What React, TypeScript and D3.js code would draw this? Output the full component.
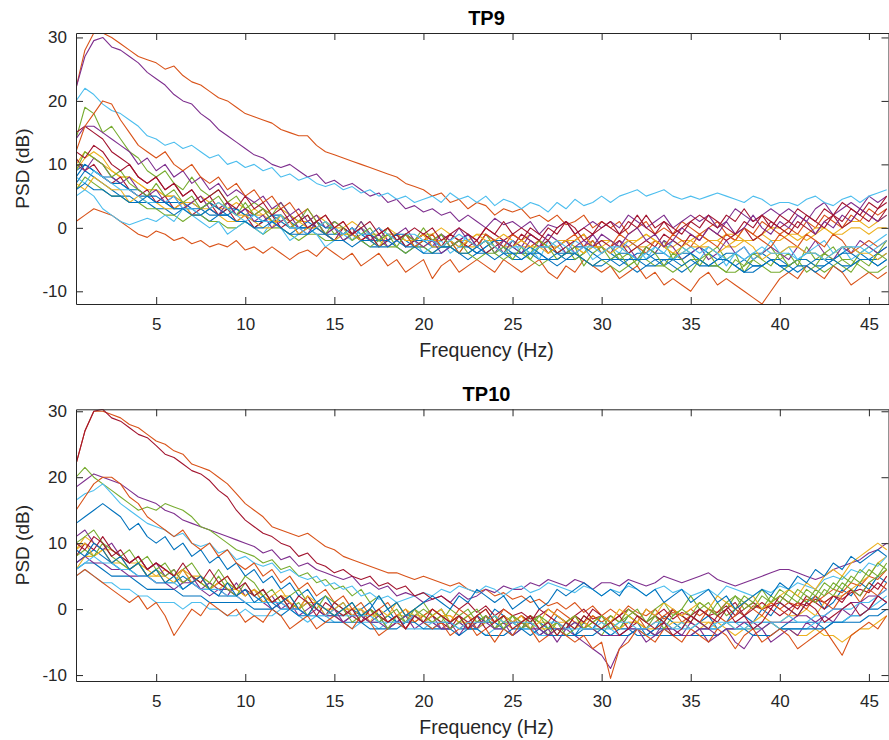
import React, { useEffect, useRef } from "react";
import * as d3 from "d3";

// PSD bins, 0.5 Hz apart
const frequencies = d3.range(0.5, 46.01, 0.5);
const xTicks = [5, 10, 15, 20, 25, 30, 35, 40, 45];
const yTicks = [-10, 0, 10, 20, 30];

// one row per epoch, dB values at each bin
const tp9Series = [
  [9,10,9,8,7,7,6,5,5,4, 4,3,3,4,3,2,2,3,3,2, 1,1,2,1,0,0,1,0,-1,-1, -1,0,-1,-2,-2,-1,-1,-2,-3,-2, -2,-3,-3,-2,-3,-4,-3,-2,-2,-3, -4,-4,-3,-3,-4,-5,-5,-4,-3,-3, -4,-5,-5,-4,-4,-5,-6,-5,-4,-4, -3,-4,-5,-5,-6,-5,-4,-4,-5,-6, -6,-5,-4,-4,-5,-5,-4,-3,-4,-5,-5,-4],
  [22,28,30.7,30.7,30,29,28,27,26.5,26, 25,25.5,24,23,22.5,21.5,20.5,20,19,18, 17.5,17,16.5,15.5,15,14.5,14.5,13,12,11.5, 11,10.5,10,9.5,9,8.5,8,7,6.5,6, 5,5.5,4,4.5,3,4,3.5,2,3,2.5, 3,1.5,2,1,2,0.5,1,2,0,1, 0,1,-1,0,1,-1,0,-1,1,0, -1,0,1,-1,-2,0,-1,1,0,-1, 0,-1,1,0,2,1,0,2,1,3,2,3],
  [10,12,11,10,9,8,8,7,6,6, 5,5,4,4,5,4,3,3,4,3, 2,2,3,3,2,1,1,2,1,0, 0,1,0,-1,-1,0,-1,-2,-2,-1, -1,0,-1,-2,-2,-1,-1,-2,-3,-3, -2,-1,-2,-3,-2,-2,-3,-4,-3,-2, -2,-3,-3,-2,-1,-2,-3,-3,-2,-2, -1,-2,-2,-1,-1,-2,-2,-1,0,0, -1,-2,-1,0,0,-1,0,1,1,0,1,2],
  [22,27,29.5,30,28.5,28,27,26,24.5,23.5, 22.5,21,20,19.5,18,17,15.5,14.5,13.5,12.5, 11.5,11,10,9.5,10,9,8,8.5,7,7.5, 6.5,7,6,5,5.5,4,4.5,3,3.5,2.5, 3,2,2.5,1,2,1,0,1.5,0.5,1, 0,1,-1,0.5,0,1,-1,0,1,0, 1,0,2,1,0,1,2,0,1,2, 1,2,0,1,3,2,1,2,3,2, 3,2,1,3,4,2,3,4,3,5,4,5],
  [14,19,18,15,16,14,12,11,9,8, 9,7,6,8,6,5,6,4,5,3, 4,3,2,4,2,1,2,0,1,-1, 0,-1,1,-1,-2,0,-2,-1,-3,-2, -1,-3,-2,-4,-2,-3,-1,-3,-4,-2, -3,-5,-3,-2,-4,-3,-5,-4,-2,-4, -3,-5,-4,-6,-3,-4,-2,-5,-3,-4, -6,-4,-3,-5,-4,-7,-5,-4,-3,-5, -4,-6,-3,-5,-4,-3,-5,-6,-4,-3,-4,-2],
  [20,22,21,19.5,18.5,18,17,16,14.5,14, 13,13.5,12.5,13,12,11,11.5,10,10.5,9.5, 10,9,9.5,8,8.5,7.5,8,7,6.5,7, 6,6.5,5.5,6,5,5.5,4.5,5,4,4.5, 5,4,5.5,4.5,5,4,5,3.5,4.5,4, 3,4,3.5,2.5,4,3,4.5,3.5,4,5, 4,5,5.5,6,5,5.5,6,5,4.5,5, 4.5,5,5.5,5,4.5,4,5,4.5,3.5,4, 4,3.5,4.5,5,4,3.5,4.5,5,4,5,5.5,6],
  [15,16,15,14,12,11,10,8,7,8, 6,7,5,6,4,5,3,4,2,3, 2,3,1,2,0,1,2,0,-1,0, -1,0,-2,-1,0,-2,-1,-3,-2,-1, -2,-1,-3,-2,-1,-2,0,-1,-2,-1, -2,0,-1,-2,0,1,-1,0,-1,1, 0,-1,1,0,2,0,1,-1,0,1, 2,1,0,2,1,3,1,2,0,2, 1,3,2,1,3,2,4,3,2,4,3,5],
  [7,9,8,7,6,5,5,4,4,3, 3,2,3,3,2,1,2,2,1,1, 0,1,1,0,-1,0,0,-1,-1,-2, -2,-1,-2,-3,-3,-2,-3,-4,-3,-3, -4,-4,-3,-4,-5,-4,-4,-3,-4,-5, -5,-4,-5,-5,-6,-5,-4,-5,-6,-6, -5,-5,-6,-7,-6,-5,-5,-6,-7,-6, -5,-6,-6,-5,-6,-7,-7,-6,-5,-6, -6,-7,-6,-5,-5,-6,-7,-6,-5,-5,-6,-5],
  [1,2,3,2.5,2,1,0,-1,-1.5,-0.5, -1,-2,-1.5,-2.5,-2,-3,-2.5,-3,-2,-3.5, -3,-4,-3,-4,-5,-4,-3.5,-4.5,-3,-4, -5,-4,-6,-5,-4,-6,-5,-7,-6,-5, -8,-6,-5,-7,-6,-5,-6,-7,-5,-6, -7,-6,-5,-7,-8,-6,-7,-5,-6,-7, -6,-8,-7,-6,-8,-7,-9,-8,-9,-10, -8,-7,-9,-8,-9,-10,-11,-12,-10,-8, -7,-8,-6,-7,-8,-6,-7,-9,-8,-7,-8,-7],
  [9,11,12,11,9,8,8,7,6,6, 5,5,4,4,3,3,4,3,2,2, 3,2,1,1,2,1,0,0,1,0, -1,-1,0,-1,-2,-1,-1,-2,-2,-3, -2,-2,-1,-2,-3,-3,-2,-2,-1,-2, -3,-3,-2,-3,-3,-2,-3,-4,-3,-3, -2,-3,-4,-3,-3,-2,-3,-4,-4,-3, -3,-2,-2,-3,-3,-2,-2,-1,-2,-2, -1,-1,-2,-1,0,-1,-1,0,0,-1,0,0],
  [14,16,16,15,14,13,12,10,11,9, 10,8,9,7,8,6,7,5,6,5, 4,5,3,4,2,3,1,2,0,1, 0,-1,1,-1,0,-2,-1,0,-2,-1, -3,-1,-2,0,-2,-3,-1,-2,-4,-2, -3,-1,-2,-4,-3,-2,-4,-3,-1,-3, -4,-2,-3,-5,-3,-4,-2,-3,-5,-4, -3,-5,-4,-2,-4,-3,-5,-4,-3,-4, -5,-3,-4,-2,-4,-5,-3,-4,-2,-3,-4,-3],
  [6,8,7,6,5,5,4,4,3,3, 2,2,1,2,2,1,1,0,0,1, 0,-1,0,0,-1,-2,-1,-1,-2,-2, -2,-1,-2,-3,-2,-3,-3,-4,-3,-3, -4,-3,-3,-4,-4,-5,-4,-4,-5,-4, -4,-5,-6,-5,-5,-4,-4,-5,-6,-5, -6,-7,-6,-5,-5,-6,-6,-7,-6,-5, -5,-6,-6,-7,-7,-6,-5,-6,-7,-7, -6,-5,-5,-6,-7,-6,-5,-5,-6,-7,-7,-6],
  [5,6,5,3,2,1,0.5,1,1.5,1, 2,1,3,2,1,0,1,-1,0,1, 0,-1,1,0,-2,-1,0,-1,-3,-2, -1,-2,0,-1,-3,-2,-1,-3,-2,-4, -3,-2,-4,-3,-1,-3,-2,-4,-3,-2, -4,-3,-5,-2,-3,-4,-2,-3,-5,-4, -3,-4,-2,-3,-5,-3,-4,-2,-3,-4, -5,-3,-4,-6,-4,-3,-5,-4,-2,-4, -3,-5,-4,-3,-2,-4,-3,-5,-4,-3,-2,-1],
  [11,9,10,8,7,8,6,5,6,4, 5,3,4,2,3,4,2,3,1,2, 0,1,2,0,1,-1,0,1,-1,-2, 0,-1,-2,-1,-3,-2,-1,-3,-2,-1, -2,-3,-1,-2,-3,-2,-4,-3,-2,-3, -1,-2,-3,-2,-4,-3,-2,-1,-3,-2, -3,-2,-4,-3,-2,-3,-1,-2,-3,-1, -2,0,-1,-2,-1,0,-2,-1,1,0, -1,1,0,-1,1,2,0,1,3,2,1,3],
  [8,10,9,8,8,7,6,6,5,5, 4,4,4,3,3,4,3,2,3,2, 2,1,2,2,1,0,0,1,0,0, -1,0,-1,-1,-2,-2,-1,-1,-2,-2, -3,-3,-2,-3,-3,-4,-3,-2,-3,-4, -4,-3,-4,-5,-4,-4,-3,-3,-4,-5, -5,-4,-4,-5,-5,-4,-4,-5,-5,-4, -5,-6,-5,-4,-4,-5,-6,-6,-5,-5, -6,-5,-5,-6,-6,-5,-4,-4,-5,-5,-4,-3],
  [12,16,18,20,19.5,17,15,13,12,11, 12,10,9,10,8,7,8,6,7,5, 6,4,5,3,4,2,3,1,2,0, 1,-1,0,-2,-1,0,-2,-1,-3,-2, -1,-3,-2,-4,-2,-3,-1,-2,-3,-1, -2,-3,-2,-4,-3,-2,-1,-3,-2,-4, -3,-1,-2,-3,-4,-2,-3,-1,-2,-3, -1,-2,-3,-1,-2,0,-1,-2,-3,-1, -2,-3,-1,-2,-3,-1,-2,-4,-3,-2,-3,-2],
  [7,6,8,7,6,6,4,5,4,4, 3,3,4,2,2,3,2,1,1,2, 1,0,0,2,1,-1,0,0,-1,-2, -1,-1,-2,-2,-3,-1,-2,-1,-2,-1, -3,-3,-2,-3,-2,-1,-2,-3,-4,-3, -2,-3,-3,-4,-3,-2,-2,-1,-3,-3, -4,-3,-2,-2,-1,-2,-3,-4,-3,-2, -3,-3,-4,-3,-2,-2,-3,-5,-4,-4, -3,-3,-4,-4,-5,-4,-3,-3,-4,-4,-5,-4],
  [10,9,11,10,8,7,8,6,5,6, 4,5,3,4,5,3,2,4,2,3, 1,2,0,1,2,0,-1,1,-1,0, -2,-1,0,-2,-1,-3,-2,-1,-2,-3, -2,-4,-3,-2,-1,-3,-2,-4,-2,-3, -4,-2,-3,-1,-2,-4,-3,-2,-3,-1, -2,-3,-1,0,-2,-1,-3,-2,0,-1, -2,0,-1,1,-1,0,2,0,-1,1, 0,2,1,-1,1,0,2,1,3,2,1,2],
  [9,12,11,10,8,9,7,6,5,7, 5,6,4,5,3,4,5,3,2,4, 2,3,1,2,0,1,3,1,-1,1, 0,-2,-1,0,-2,-1,-3,-1,-2,0, -2,-1,-3,-2,-4,-3,-2,-4,-3,-5, -3,-4,-2,-3,-5,-4,-3,-6,-4,-3, -5,-4,-6,-5,-3,-4,-6,-4,-5,-7, -5,-4,-6,-7,-5,-6,-4,-5,-6,-4, -6,-5,-7,-6,-4,-5,-6,-7,-5,-6,-4,-5],
  [8,7,9,8,7,6,6,5,4,4, 4,5,3,3,2,3,4,3,2,1, 2,1,1,2,0,0,-1,0,1,0, -1,0,-1,-1,0,-1,-2,-1,-1,-2, -2,-3,-2,-1,-2,-3,-2,-3,-4,-3, -3,-4,-3,-3,-2,-3,-4,-3,-3,-4, -3,-3,-4,-5,-4,-3,-4,-5,-4,-3, -4,-3,-4,-5,-4,-5,-4,-3,-4,-4, -4,-5,-4,-4,-5,-4,-3,-3,-3,-4,-3,-2],
  [12,11,13,12,10,9,10,8,7,8, 6,7,5,6,4,5,6,4,3,5, 3,4,2,3,1,2,0,1,2,0, 1,-1,0,1,-1,0,-2,-1,0,-1, 0,-2,-1,0,-1,-2,0,-1,1,-1, 0,-1,-2,0,-1,1,0,-2,-1,0, 1,-1,0,2,0,-1,1,0,-1,1, 0,2,1,0,-1,1,0,2,1,0, 1,0,2,1,0,2,1,3,2,1,3,4],
  [6,7,6,6,5,5,4,4,5,4, 4,3,3,2,2,3,2,2,1,1, 0,0,1,0,-1,-1,-1,0,-1,-2, -2,-3,-2,-2,-3,-3,-2,-3,-3,-4, -4,-3,-3,-4,-4,-3,-4,-5,-4,-4, -5,-4,-4,-5,-5,-4,-4,-5,-6,-5, -5,-6,-5,-5,-6,-6,-5,-5,-6,-5, -6,-6,-5,-5,-6,-7,-6,-6,-5,-6, -7,-6,-6,-7,-6,-5,-6,-6,-5,-5,-6,-5],
];

const tp10Series = [
  [13,14,15,16,15,14,12,13,11,10, 11,9,10,8,9,7,8,6,7,5, 6,4,5,3,4,2,3,1,2,0, 1,-1,0,1,-1,0,-2,-1,0,-2, -1,0,-2,-1,-3,-1,-2,0,-1,-2, -3,-1,-2,-3,-1,-2,-4,-2,-3,-1, -2,-3,-1,-2,-4,-3,-1,-2,-3,-1, -2,-1,-3,-2,0,-1,-2,0,-1,1, 0,-1,1,2,0,1,3,2,4,3,5,4],
  [22,27,30,30,29.5,29,28,27.5,26.5,25.5, 25,24,23.5,22,21.5,21,20,19,17.5,16, 15,14,12.5,12,11.5,11,11.5,10.5,9.5,9, 8,7.5,7,6.5,6,5.5,5.5,5,4.5,5, 4.5,4,3.5,4,3,2.5,3,2,2.5,1.5, 2,1,1.5,0.5,1,0,1,-0.5,0.5,-1, 0,-1,0.5,-0.5,-1,0,-1.5,-0.5,-1,0, -1,0,-0.5,1,0,-1,0.5,0,1,0, 1,0.5,1.5,1,2,3,2.5,4,3.5,5,4.5,6],
  [9,11,10,9,9,8,7,7,6,5, 6,5,4,5,5,4,3,4,3,2, 3,2,1,2,1,0,1,1,0,-1, 0,0,-1,0,-1,-2,-1,-1,-2,-1, 0,-1,-1,-2,-1,-2,-2,-1,-2,-3, -2,-1,-2,-2,-3,-3,-2,-2,-1,-2, -3,-3,-2,-2,-3,-4,-3,-2,-2,-3, -2,-2,-3,-2,-3,-3,-2,-1,-2,-2, -1,-1,0,-1,1,2,2,3,4,5,7,8],
  [18.5,19.5,20.5,20,19.5,19,18,17,16.5,16, 15,14.5,13.5,13,12.5,12,11.5,11,10.5,10, 9.5,8.5,9,7.5,8,6.5,7,6,5.5,5, 4.5,5,3.5,4,3,3.5,2,2.5,2,1, 1.5,2,1,2.5,1.5,2,3,2.5,3.5,3, 3,4,3.5,4.5,4,3.5,4.5,4,3,4, 4,3.5,4.5,4,3.5,4,5,4.5,4,4.5, 5,5.5,4.5,4,3.5,4,4.5,5,5.5,6, 6,5.5,5,4.5,5,6,6.5,7,7.5,8.5,9,10],
  [20,21.5,20,19,18,17,16,15,15.5,15, 16,15.5,15,14,12.5,12,11,10,9,8.5, 8,7,7.5,6,6.5,5,5.5,4,4.5,3, 3.5,2,3,1,2,0,1,-1,0,1, -1,0,-2,-1,0,-2,-1,-3,-1,-2, -3,-1,-2,-4,-2,-3,-1,-2,-3,-4, -2,-3,-1,-2,-3,-1,-2,0,-1,-2, 0,-1,1,-1,0,2,1,0,2,1, 3,2,1,3,2,4,3,5,4,6,5,7],
  [16.5,17.5,18,19,17.5,16,15,14,13,12.5, 12,11,11.5,10,9.5,10,8.5,9,7.5,8, 7,6.5,7,5.5,6,5,4.5,5,3.5,4, 3,3.5,2,2.5,1.5,2,1,1.5,2,2.5, 2,3,2.5,3.5,3,2.5,3.5,3,2,3, 3.5,2.5,3,4,3.5,3,2.5,3.5,3,2, 3,2.5,3.5,3,2,3,3.5,2.5,3,2, 2.5,3,2,3.5,3,2.5,2,3,2.5,3.5, 3,4,3.5,3,4.5,5,4.5,6,5.5,7,6.5,8],
  [22,27,30,30.3,29,28.5,27.5,26.5,26,24.8, 23.5,23,22,21,20.5,19.5,18,17,15,13.5, 12.5,11.5,11,10,9.5,8,8.5,7,6.5,5.5, 6,5,4.5,5,3.5,4,3,3.5,2,2.5, 1.5,2,1,0,1,-0.5,0.5,-1,0,-1, -0.5,-1.5,-1,0,-1,-2,-1,0,-1.5,-1, -2,-1,0,-1,-2,-1,0,-1.5,-0.5,-1, 0,-1,-0.5,0.5,-1,0,1,0,0.5,1, 0,1,0.5,1.5,1,2,1.5,2.5,3,2.5,4,3],
  [7,8,9,8,7,6,6,5,5,4, 4,4,5,4,3,3,2,2,2,3, 2,1,1,0,0,0,1,0,-1,-1, -1,0,-1,-2,-2,-1,-2,-1,-1,-2, -3,-2,-2,-3,-3,-3,-2,-2,-3,-4, -3,-3,-4,-3,-3,-4,-4,-3,-3,-3, -4,-3,-3,-4,-4,-3,-3,-4,-4,-4, -3,-3,-3,-2,-2,-2,-3,-2,-2,-3, -2,-2,-2,-2,-3,-2,-2,-1,-1,0,0,1],
  [15,17,19,20,20,19,17,16,14,13, 12,11,12,10,9,10,8,9,7,6, 7,5,6,4,5,3,4,2,3,1, 2,0,1,-1,0,1,-1,0,-2,-1, 0,-1,-2,0,-1,-3,-1,-2,0,-1, -2,-1,-3,-2,0,-1,-2,-3,-1,-2, -1,-2,0,-1,-3,-2,-1,0,-2,-1, -2,0,-1,-2,-1,1,0,-1,1,0, -1,1,0,2,1,0,2,3,1,3,2,4],
  [6,8,8,9,7,7,6,7,5,5, 5,4,6,5,4,3,4,3,3,2, 3,2,1,2,2,0,1,1,0,0, -1,0,0,-1,-1,-2,-1,0,-1,-1, -2,-1,-1,-2,-2,-3,-2,-1,-2,-2, -1,-2,-3,-3,-2,-2,-3,-2,-3,-3, -2,-3,-2,-2,-3,-3,-2,-3,-2,-2, -3,-2,-2,-3,-4,-3,-3,-3,-2,-3, -3,-4,-4,-3,-4,-4,-5,-4,-3,-3,-2,-1],
  [11,12,10,9,10,8,7,8,6,7, 5,6,4,5,3,4,3,2,4,2, 3,1,2,0,1,-1,0,1,-1,0, -2,-1,0,-2,-1,-3,-2,-1,-3,-2, -1,-3,-2,-4,-2,-3,-1,-3,-2,-4, -3,-2,-4,-3,-5,-3,-4,-5,-6,-7, -9,-6,-4,-3,-5,-4,-2,-3,-4,-2, -3,-5,-4,-3,-5,-6,-4,-3,-5,-4, -3,-4,-2,-3,-1,-2,0,-1,1,0,2,1],
  [10,11,12,10,9,8,9,7,8,6, 7,5,6,7,5,4,6,4,3,5, 4,2,3,1,2,3,1,0,2,1, 0,1,-1,0,-2,-1,0,-2,-1,0, -1,-2,0,-1,-3,-2,-1,-3,-2,-1, -3,-2,-1,-3,-2,-4,-3,-1,-2,-3, -1,-2,0,-1,-2,0,1,-1,0,2, 0,1,-1,0,2,1,0,2,1,3, 2,1,3,2,4,3,5,4,6,5,7,6],
  [5,6,5,4,4,3,3,2,2,1, 1,1,0,1,1,0,0,-1,-1,0, -1,-1,-1,0,0,-1,-2,-1,-1,-2, -2,-3,-2,-2,-3,-2,-2,-3,-3,-3, -2,-3,-3,-2,-3,-3,-4,-3,-3,-2, -3,-3,-4,-4,-3,-3,-2,-3,-3,-3, -3,-4,-3,-3,-4,-4,-3,-3,-3,-3, -2,-3,-3,-2,-2,-3,-3,-3,-2,-3, -3,-3,-3,-2,-2,-2,-2,-1,-1,0,1,2],
  [8,10,9,11,9,8,7,8,6,7, 6,5,6,4,5,3,4,3,2,3, 2,3,1,2,1,0,2,0,-1,1, 0,-1,-2,0,-1,-2,-1,-3,-1,-2, -1,-2,-3,-1,-2,-1,-3,-2,-1,-2, -1,-2,0,-1,-2,-3,-1,-2,0,-1, -2,-1,-3,-2,0,-1,-2,0,-1,-2, 0,-1,-2,0,1,-1,0,1,0,2, 1,0,2,1,0,2,1,3,2,4,3,5],
  [6,7,7,6,5,5,5,4,3,3, 3,3,2,2,2,1,1,1,1,1, 0,0,0,-1,0,-1,-1,-1,-2,-2, -2,-2,-2,-3,-3,-3,-3,-2,-2,-3, -3,-3,-3,-4,-3,-3,-4,-4,-4,-3, -3,-4,-3,-4,-4,-4,-4,-4,-4,-3, -4,-4,-4,-3,-3,-4,-4,-4,-4,-4, -4,-4,-4,-3,-3,-3,-4,-4,-4,-3, -3,-3,-3,-3,-3,-2,-2,-2,-2,-1,-1,0],
  [5,6,5,4,3,2,1,2,0,1, -1,-4,-2,0,-1,1,0,-1,0,-2, -1,-2,0,-1,-3,-2,-1,-3,-2,-1, -2,-3,-1,-2,-4,-3,-2,-3,-1,-2, -3,-2,-4,-3,-2,-4,-3,-5,-3,-4, -2,-3,-5,-4,-3,-4,-5,-4,-6,-5, -10.5,-6,-5,-3,-4,-5,-3,-4,-5,-3, -4,-5,-3,-4,-6,-4,-3,-5,-4,-3, -4,-6,-5,-4,-3,-5,-7,-4,-3,-2,-3,-1],
  [9,10,8,9,7,8,6,7,5,6, 4,5,6,4,5,3,4,5,3,2, 3,1,2,3,1,0,2,1,-1,0, 1,-1,0,-2,0,-1,1,-1,0,-2, -1,0,-2,-1,-3,-1,0,-2,-1,-2, -1,-3,-2,0,-1,-2,-1,-3,-2,-1, -2,0,-1,-2,0,-1,1,0,-1,0, 1,0,2,1,0,1,2,0,1,2, 3,2,4,3,5,6,5,7,8,9,10,9],
  [7,8,7,7,6,6,5,5,5,4, 4,3,4,4,3,2,3,3,2,1, 1,1,0,1,0,0,-1,0,-1,-1, -2,-1,-1,-2,-2,-3,-2,-2,-1,-2, -2,-3,-3,-2,-3,-2,-2,-3,-3,-2, -2,-3,-3,-4,-3,-3,-2,-3,-3,-4, -4,-4,-3,-3,-3,-4,-3,-3,-4,-4, -3,-3,-4,-3,-3,-2,-2,-3,-2,-2, -2,-1,-1,-2,-1,0,0,1,1,2,2,3],
  [8,9,8,10,8,7,6,7,5,6, 5,6,4,5,4,3,5,3,2,4, 2,3,1,2,0,1,-1,1,0,-1, 0,-2,-1,0,-1,-3,-1,-2,0,-1, -2,-1,-3,-2,-1,0,-2,-1,-3,-1, -2,-3,-1,-2,-4,-2,-1,-3,-2,-1, -3,-2,-1,0,-2,-1,-3,-1,0,-1, 1,0,-1,1,2,0,1,3,1,2, 1,3,2,1,3,2,4,3,2,4,5,6],
  [6,7,8,7,7,6,6,5,5,4, 4,4,3,4,3,3,3,2,2,1, 1,1,1,1,0,0,-1,-1,-1,0, -1,-1,-1,-1,-2,-2,-2,-2,-1,-2, -2,-2,-2,-3,-2,-2,-2,-1,-2,-2, -2,-2,-3,-2,-2,-3,-3,-3,-3,-2, -3,-2,-2,-3,-3,-2,-2,-3,-2,-3, -2,-3,-2,-2,-3,-3,-2,-2,-2,-2, -1,-2,-2,-1,-1,0,0,0,1,1,2,3],
  [10,9,11,10,8,9,7,8,6,7, 6,5,7,5,4,6,4,5,3,4, 2,3,1,2,0,2,1,-1,1,0, -1,0,-2,-1,0,-2,-1,-3,-1,-2, 0,-1,-2,-1,-3,-1,0,-2,-1,-3, -2,-1,-3,-2,-4,-2,-3,-1,-2,-3, -2,-4,-3,-1,-2,-3,-2,-4,-3,-1, -2,-3,-1,0,-2,-1,-3,-2,0,-1, 0,-1,1,0,-2,-1,0,1,-1,0,2,1],
  [9,8,10,9,7,8,6,7,5,6, 4,5,3,4,5,3,2,4,2,3, 1,2,0,1,2,0,-1,1,0,-1, 0,1,-1,0,2,0,1,-1,0,1, 2,1,0,2,1,3,2,1,2,0, 1,2,0,1,3,2,3,4,3,2, 3,2,4,3,2,3,1,2,3,1, 2,3,1,2,0,1,2,3,2,4, 3,5,4,6,5,7,6,8,7,8,9,8],
];

// MATLAB default colour order
const lineColors = ["#0072BD", "#D95319", "#EDB120", "#7E2F8E", "#77AC30", "#4DBEEE", "#A2142F"];

const App = () => {
  const chartRef = useRef(null);

  useEffect(() => {
    const width = 889;
    const height = 740;
    const left = 76;
    const right = 888.5;
    const font = "'Liberation Sans', Arial, Helvetica, sans-serif";
    const axisColor = "#262626";

    const panels = [
      { title: "TP9", series: tp9Series, yDomain: [-12, 30.7], top: 33, bottom: 304 },
      { title: "TP10", series: tp10Series, yDomain: [-10.9, 30.3], top: 409.3, bottom: 681 },
    ];

    d3.select(chartRef.current).selectAll("*").remove();

    const svg = d3
      .select(chartRef.current)
      .append("svg")
      .attr("width", width)
      .attr("height", height)
      .style("position", "absolute")
      .style("left", 0)
      .style("top", 0)
      .style("background", "#fff");

    const x = d3.scaleLinear().domain([0.5, 46.1]).range([left, right]);
    const color = d3.scaleOrdinal().domain(d3.range(7)).range(lineColors);
    const plain = (d) => String(d); // hyphen minus, like MATLAB

    panels.forEach((p, pi) => {
      const y = d3.scaleLinear().domain(p.yDomain).range([p.bottom, p.top]);
      const g = svg.append("g");

      const clipId = `clip-${pi}`;
      svg
        .append("clipPath")
        .attr("id", clipId)
        .append("rect")
        .attr("x", left)
        .attr("y", p.top)
        .attr("width", right - left)
        .attr("height", p.bottom - p.top);

      const line = d3
        .line()
        .x((d, i) => x(frequencies[i]))
        .y((d) => y(d));

      g.append("g")
        .attr("clip-path", `url(#${clipId})`)
        .selectAll("path")
        .data(p.series)
        .join("path")
        .attr("d", (d) => line(d))
        .attr("fill", "none")
        .attr("stroke", (d, i) => color(i % 7))
        .attr("stroke-width", 1.1)
        .attr("stroke-linejoin", "round");

      // box with inward ticks on all sides
      const styleAxis = (sel) => {
        sel.selectAll("path, line").attr("stroke", axisColor).attr("stroke-width", 1);
        sel.selectAll("text").attr("fill", axisColor).style("font-size", "17px").style("font-family", font);
      };

      g.append("g")
        .attr("transform", `translate(0,${p.bottom})`)
        .call(d3.axisBottom(x).tickValues(xTicks).tickFormat(plain).tickSize(-7).tickSizeOuter(0).tickPadding(14))
        .call(styleAxis);

      g.append("g")
        .attr("transform", `translate(0,${p.top})`)
        .call(d3.axisTop(x).tickValues(xTicks).tickSize(-7).tickSizeOuter(0).tickFormat(() => ""))
        .call(styleAxis);

      g.append("g")
        .attr("transform", `translate(${left},0)`)
        .call(d3.axisLeft(y).tickValues(yTicks).tickFormat(plain).tickSize(-7).tickSizeOuter(0).tickPadding(9))
        .call(styleAxis);

      g.append("g")
        .attr("transform", `translate(${right},0)`)
        .call(d3.axisRight(y).tickValues(yTicks).tickSize(-7).tickSizeOuter(0).tickFormat(() => ""))
        .call(styleAxis);

      const cx = (left + 897) / 2;

      g.append("text")
        .attr("x", cx)
        .attr("y", p.top - 8)
        .attr("text-anchor", "middle")
        .attr("fill", "#000")
        .style("font-family", font)
        .style("font-size", "20px")
        .style("font-weight", "bold")
        .text(p.title);

      g.append("text")
        .attr("x", cx)
        .attr("y", p.bottom + 53)
        .attr("text-anchor", "middle")
        .attr("fill", axisColor)
        .style("font-family", font)
        .style("font-size", "19.5px")
        .text("Frequency (Hz)");

      g.append("text")
        .attr("transform", `translate(28.5,${(p.top + p.bottom) / 2}) rotate(-90)`)
        .attr("text-anchor", "middle")
        .attr("fill", axisColor)
        .style("font-family", font)
        .style("font-size", "19px")
        .text("PSD (dB)");
    });
  }, []);

  return <div ref={chartRef}></div>;
};

export default App;
